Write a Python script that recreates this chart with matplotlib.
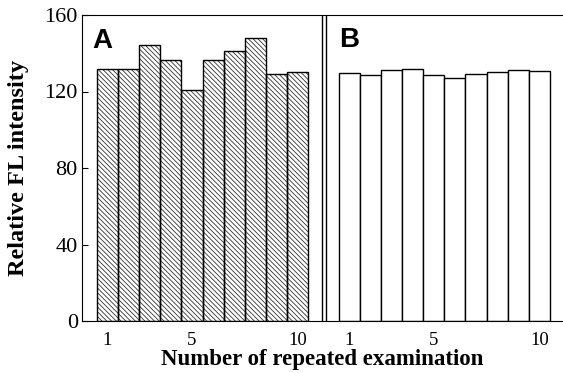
import numpy as np
import matplotlib
matplotlib.use("Agg")
import matplotlib.pyplot as plt

# values
runs = [1, 2, 3, 4, 5, 6, 7, 8, 9, 10]
panel_a = [132, 132, 144.5, 136.5, 121, 136.5, 141, 148, 129, 130]
panel_b = [129.5, 128.5, 131, 132, 128.5, 127, 129, 130, 131.5, 130.5]
tick_runs = [1, 5, 10]
y_ticks = [0, 40, 80, 120, 160]

b_offset = 11.46   # where panel B starts on the shared x axis
divider = 11.26

plt.rcParams['hatch.linewidth'] = 0.6
back = chr(92)

fig = plt.figure(figsize=(5.63, 3.73), dpi=100)
ax = fig.add_axes([82/563, 52/373, 481/563, 306/373])

xa = np.array(runs, dtype=float)
xb = xa + b_offset
# hatch layer in dark grey, then black outlines on top
ax.bar(xa, panel_a, width=1.0, facecolor='white', edgecolor='#333333',
       hatch=back * 7, linewidth=0)
ax.bar(xa, panel_a, width=1.0, facecolor='none', edgecolor='black', linewidth=1.0)
ax.bar(xb, panel_b, width=1.0, facecolor='white', edgecolor='black',
       linewidth=1.0)

# double vertical line between the panels
ax.axvline(divider - 0.1, color='black', lw=1.0)
ax.axvline(divider + 0.1, color='black', lw=1.0)

ax.set_xlim(-0.21, 22.58)
ax.set_ylim(0, 160)
ax.spines['right'].set_visible(False)

xt = [t for t in tick_runs] + [t + b_offset for t in tick_runs]
ax.set_xticks(xt)
ax.set_xticklabels([str(t) for t in tick_runs] * 2, family='Liberation Serif', fontsize=13.5)
ax.set_yticks(y_ticks)
ax.set_yticklabels([str(t) for t in y_ticks], family='Liberation Serif', fontsize=16)
ax.tick_params(axis='x', length=0, pad=8)
ax.tick_params(axis='y', direction='in', length=4, pad=3)

ax.set_xlabel('Number of repeated examination', family='Liberation Serif',
              fontweight='bold', fontsize=16.5, labelpad=0)
ax.set_ylabel('Relative FL intensity', family='Liberation Serif',
              fontweight='bold', fontsize=17.5, labelpad=11)

ax.text(0.021, 0.957, 'A', transform=ax.transAxes, family='Liberation Sans',
        fontweight='bold', fontsize=20, va='top', ha='left')
ax.text(b_offset + 0.5, 153.7, 'B', family='Liberation Sans',
        fontweight='bold', fontsize=20, va='top', ha='left')

fig.savefig('out.png', dpi=100)
